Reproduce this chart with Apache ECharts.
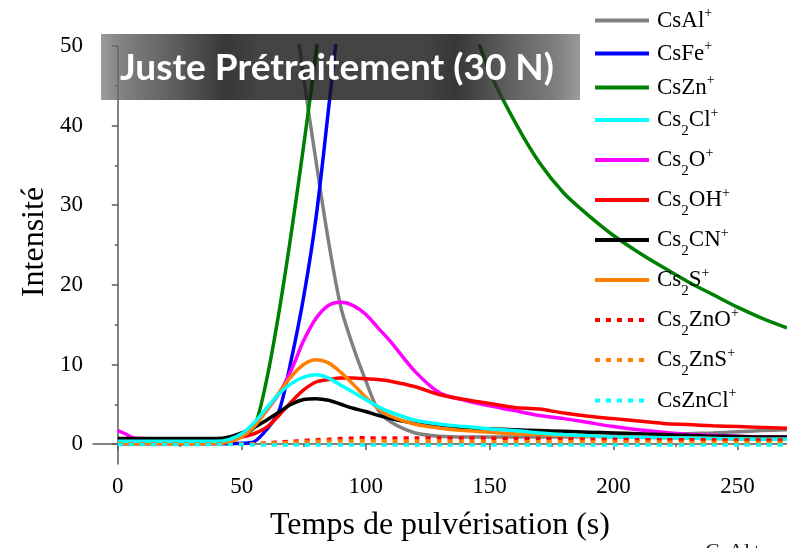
<!DOCTYPE html>
<html>
<head>
<meta charset="utf-8">
<script src="https://cdn.jsdelivr.net/npm/echarts/dist/echarts.min.js"></script>
<style>
  html, body { margin: 0; padding: 0; background: #fff; }
  #chart { width: 787px; height: 548px; }
</style>
</head>
<body>
<div id="chart"></div>
<script>
// sampling times (s)
const t = [0, 3, 6, 10, 20, 30, 40, 45, 50, 55, 60, 65, 70, 75, 80, 85, 90, 95, 100, 105, 110, 120, 130, 140, 150, 160, 170, 180, 190, 200, 210, 220, 230, 240, 250, 260, 270]

// values above 50 are off the top of the plot and get clipped
const csAl = [null, null, null, null, null, null, null, null, null, null, null, null, 58, 46, 35.5, 25.5, 17.2, 12.2, 8, 4.3, 2.8, 1.4, 1.0, 0.9, 0.9, 0.9, 0.9, 0.9, 0.95, 1.0, 1.1, 1.2, 1.3, 1.4, 1.55, 1.7, 1.8]
const csFe = [0.05, 0.05, 0.05, 0.05, 0.05, 0.05, 0.05, 0.05, 0.1, 0.3, 1.8, 4.1, 10.6, 18.5, 28.5, 42, 56, 70, null, null, null, null, null, null, null, null, null, null, null, null, null, null, null, null, null, null, null]
const csZn = [0.1, 0.1, 0.1, 0.1, 0.1, 0.1, 0.2, 0.4, 1.0, 2.1, 8, 16.5, 26.5, 37.5, 49.2, 62, 75, 85, 90, 92, 90, 82, 70, 56, 46.8, 40.6, 35.4, 31.5, 28.7, 26.2, 24.1, 22.2, 20.4, 18.8, 17.2, 15.8, 14.6]
const cs2Cl = [0.35, 0.35, 0.35, 0.35, 0.35, 0.35, 0.35, 0.6, 1.3, 2.7, 4.5, 6.3, 7.6, 8.4, 8.7, 8.3, 7.4, 6.5, 5.6, 4.7, 4.0, 3.0, 2.5, 2.2, 1.9, 1.7, 1.4, 1.2, 1.05, 0.9, 0.85, 0.8, 0.75, 0.7, 0.65, 0.6, 0.6]
const cs2O = [1.7, 1.3, 0.8, 0.7, 0.6, 0.55, 0.6, 0.8, 1.3, 2.4, 4.2, 6.3, 9.3, 13, 15.8, 17.4, 17.8, 17.4, 16.3, 14.6, 12.9, 9.1, 6.4, 5.5, 4.8, 4.2, 3.6, 3.2, 2.7, 2.2, 1.8, 1.5, 1.25, 1.1, 1.0, 0.9, 0.9]
const cs2OH = [0.5, 0.5, 0.5, 0.5, 0.5, 0.5, 0.5, 0.6, 0.9, 1.3, 2.1, 3.6, 5.3, 6.8, 7.8, 8.1, 8.3, 8.3, 8.2, 8.1, 7.9, 7.2, 6.2, 5.6, 5.1, 4.6, 4.4, 3.9, 3.5, 3.2, 2.9, 2.6, 2.45, 2.3, 2.2, 2.1, 2.0]
const cs2CN = [0.7, 0.7, 0.7, 0.7, 0.7, 0.7, 0.7, 0.9, 1.4, 2.1, 3.0, 4.0, 5.0, 5.6, 5.7, 5.5, 5.0, 4.5, 4.1, 3.6, 3.2, 2.6, 2.3, 2.0, 1.9, 1.8, 1.7, 1.6, 1.5, 1.4, 1.3, 1.2, 1.1, 1.0, 0.95, 0.9, 0.9]
const cs2S = [0.05, 0.05, 0.05, 0.05, 0.05, 0.05, 0.05, 0.3, 0.9, 2.2, 4.2, 6.4, 8.5, 10.0, 10.6, 10.2, 9.0, 7.5, 5.9, 4.5, 3.5, 2.5, 2.0, 1.7, 1.5, 1.3, 1.2, 1.1, 1.0, 0.9, 0.85, 0.8, 0.75, 0.7, 0.65, 0.6, 0.6]
const cs2ZnO = [0, 0, 0, 0, 0, 0, 0, 0, 0, 0.05, 0.15, 0.25, 0.35, 0.45, 0.55, 0.6, 0.7, 0.75, 0.8, 0.75, 0.75, 0.75, 0.75, 0.75, 0.75, 0.7, 0.7, 0.65, 0.6, 0.6, 0.55, 0.55, 0.55, 0.55, 0.5, 0.5, 0.5]
const cs2ZnS = [0, 0, 0, 0, 0, 0, 0, 0, 0, 0, 0.1, 0.15, 0.2, 0.3, 0.35, 0.4, 0.4, 0.4, 0.4, 0.4, 0.35, 0.35, 0.35, 0.3, 0.3, 0.3, 0.3, 0.25, 0.25, 0.25, 0.25, 0.25, 0.2, 0.2, 0.2, 0.2, 0.2]
const csZnCl = [-0.05, -0.05, -0.05, -0.05, -0.05, -0.05, -0.05, -0.05, -0.05, -0.1, -0.1, -0.1, -0.1, -0.1, -0.1, -0.1, -0.1, -0.1, -0.1, -0.1, -0.1, -0.1, -0.1, -0.1, -0.1, -0.1, -0.1, -0.1, -0.1, -0.1, -0.1, -0.1, -0.1, -0.1, -0.1, -0.1, -0.1]

const xTicks = [0, 50, 100, 150, 200, 250]
const xMinor = [25, 75, 125, 175, 225]
const yTicks = [0, 10, 20, 30, 40, 50]
const yMinor = [5, 15, 25, 35, 45]

const serif = 'Liberation Serif'
const axisColor = '#5a5a5a'

const seriesList = [
  {name: 'CsAl+', data: csAl, color: '#808080'},
  {name: 'CsFe+', data: csFe, color: '#0000ff'},
  {name: 'CsZn+', data: csZn, color: '#008000'},
  {name: 'Cs2O+', data: cs2O, color: '#ff00ff'},
  {name: 'Cs2OH+', data: cs2OH, color: '#ff0000'},
  {name: 'Cs2CN+', data: cs2CN, color: '#000000'},
  {name: 'Cs2S+', data: cs2S, color: '#ff8000'},
  {name: 'Cs2Cl+', data: cs2Cl, color: '#00ffff'},
  {name: 'Cs2ZnO+', data: cs2ZnO, color: '#ff0000', dash: true},
  {name: 'Cs2ZnS+', data: cs2ZnS, color: '#ff8000', dash: true},
  {name: 'CsZnCl+', data: csZnCl, color: '#00ffff', dash: true}
]

// legend order and the vertical centre of each entry
const legendNames = ['CsAl+', 'CsFe+', 'CsZn+', 'Cs2Cl+', 'Cs2O+', 'Cs2OH+', 'Cs2CN+', 'Cs2S+', 'Cs2ZnO+', 'Cs2ZnS+', 'CsZnCl+']
const legendRows = [19, 52, 86, 119, 159, 199, 239, 279, 319, 359, 399]

// 'Cs2Cl+' -> rich text with subscript digits and superscript charge
const chemLabel = (name) => (
  name.replace(/[A-Za-z]+|\d+|\+/g, part => {
    if (part === '+') return `{sup|+}`
    if (/\d/.test(part)) return `{sub|${part}}`
    return `{n|${part}}`
  })
)

const rowHeight = 37
const richText = {
  n: {fontFamily: serif, fontSize: 23, color: '#000', lineHeight: rowHeight},
  sup: {fontFamily: serif, fontSize: 14, color: '#000', lineHeight: 14, padding: [0, 0, 14, 0]},
  sub: {fontFamily: serif, fontSize: 15, color: '#000', lineHeight: 15, padding: [22, 0, 0, 0]}
}

const makeLegend = (name, i) => ({
  data: [name],
  orient: 'vertical',
  left: 593,
  // entries without a subscript come out a few px higher
  top: legendRows[i] - rowHeight / 2 + 1 + (/\d/.test(name) ? 0 : 5),
  padding: 0,
  itemWidth: 54,
  itemHeight: 4,
  selectedMode: false,
  itemStyle: {opacity: 0},
  lineStyle: {width: 4},
  formatter: chemLabel,
  textStyle: {rich: richText, padding: [0, 0, 0, 3]}
})

const minorAxis = {
  show: true,
  axisLine: {show: false},
  splitLine: {show: false},
  axisLabel: {show: false}
}

const chart = echarts.init(document.getElementById('chart'), null, {renderer: 'canvas'})

chart.setOption({
  animation: false,
  backgroundColor: '#fff',
  grid: {left: 93, right: 0, top: 46, bottom: 84},
  legend: legendNames.map(makeLegend),
  xAxis: [
    {
      type: 'value',
      min: -10,
      max: 270,
      name: 'Temps de pulvérisation (s)',
      nameLocation: 'middle',
      nameGap: 46,
      nameTextStyle: {fontFamily: serif, fontSize: 32, color: '#000'},
      axisLine: {lineStyle: {color: axisColor, width: 1.5}},
      axisTick: {customValues: xTicks, length: 6, lineStyle: {color: axisColor, width: 1.5}},
      axisLabel: {customValues: xTicks, fontFamily: serif, fontSize: 23, color: '#000', margin: 11},
      splitLine: {show: false}
    },
    {
      ...minorAxis,
      type: 'value',
      position: 'bottom',
      min: -10,
      max: 270,
      axisTick: {customValues: xMinor, length: 3, lineStyle: {color: axisColor, width: 1.5}}
    }
  ],
  yAxis: [
    {
      type: 'value',
      min: -2.5,
      max: 50,
      axisLine: {lineStyle: {color: axisColor, width: 1.5}},
      axisTick: {customValues: yTicks, length: 6, lineStyle: {color: axisColor, width: 1.5}},
      axisLabel: {customValues: yTicks, fontFamily: serif, fontSize: 23, color: '#000', margin: 10},
      splitLine: {show: false}
    },
    {
      ...minorAxis,
      type: 'value',
      position: 'left',
      min: -2.5,
      max: 50,
      axisTick: {customValues: yMinor, length: 3, lineStyle: {color: axisColor, width: 1.5}}
    }
  ],
  series: seriesList.map(s => ({
    name: s.name,
    type: 'line',
    xAxisIndex: 0,
    yAxisIndex: 0,
    symbol: 'none',
    smooth: 0.3,
    clip: true,
    color: s.color,
    lineStyle: {color: s.color, width: 3.5, type: s.dash ? [5, 6] : 'solid'},
    data: t.map((x, i) => [x, s.data[i]])
  })),
  graphic: [
    {
      type: 'text',
      z: 101,
      x: 35,
      y: 242,
      rotation: Math.PI / 2,
      style: {
        text: 'Intensité',
        fill: '#000',
        font: '32px "Liberation Serif"',
        align: 'center',
        verticalAlign: 'middle'
      }
    },
    {
      type: 'rect',
      z: 100,
      shape: {x: 101, y: 34, width: 479, height: 66},
      style: {
        opacity: 0.8,
        fill: new echarts.graphic.LinearGradient(0, 0, 1, 0, [
          {offset: 0, color: 'rgb(130,130,130)'},
          {offset: 0.05, color: 'rgb(95,95,95)'},
          {offset: 0.15, color: 'rgb(55,55,55)'},
          {offset: 0.26, color: 'rgb(5,5,5)'},
          {offset: 0.33, color: 'rgb(21,21,21)'},
          {offset: 0.67, color: 'rgb(21,21,21)'},
          {offset: 0.74, color: 'rgb(5,5,5)'},
          {offset: 0.85, color: 'rgb(55,55,55)'},
          {offset: 0.95, color: 'rgb(95,95,95)'},
          {offset: 1, color: 'rgb(130,130,130)'}
        ])
      }
    },
    {
      type: 'text',
      z: 101,
      x: 337,
      y: 68,
      style: {
        text: 'Juste Prétraitement (30 N)',
        fill: '#fff',
        font: 'bold 37px Lato',
        align: 'center',
        verticalAlign: 'middle'
      }
    },
    {
      type: 'text',
      z: 101,
      x: 705,
      y: 541,
      style: {
        text: 'CsAl+',
        fill: '#222',
        font: '22px "Liberation Serif"'
      }
    }
  ]
})
</script>
</body>
</html>
